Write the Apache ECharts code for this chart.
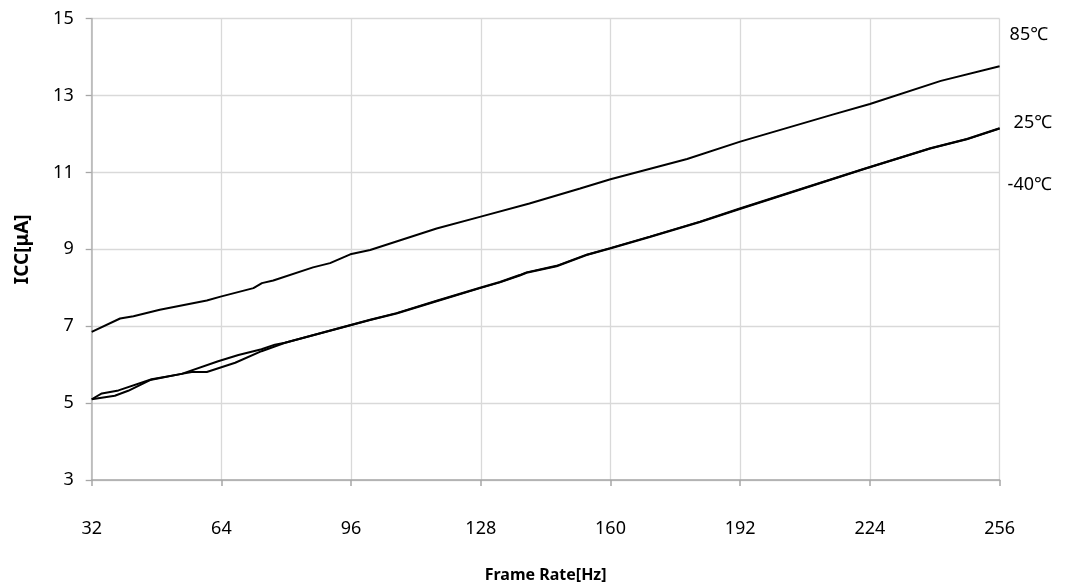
<!DOCTYPE html>
<html>
<head>
<meta charset="utf-8">
<script src="https://cdn.jsdelivr.net/npm/echarts@6/dist/echarts.min.js"></script>
<style>
html,body{margin:0;padding:0;background:#fff;}
#chart{width:1065px;height:588px;}
</style>
</head>
<body>
<div id="chart"></div>
<script>
// Frame rate [Hz] / ICC [uA] readings per temperature
const hz85 = [32, 39, 42.3, 48.8, 60.4, 63.8, 71.9, 74, 76.8, 86.6, 90.8, 95.8, 100.7, 117.1, 128, 140, 152.5, 160, 178.9, 192, 215, 224, 241.5, 256];
const icc85 = [6.85, 7.20, 7.26, 7.43, 7.67, 7.77, 7.99, 8.12, 8.19, 8.53, 8.64, 8.87, 8.98, 9.54, 9.85, 10.19, 10.58, 10.82, 11.35, 11.80, 12.51, 12.78, 13.38, 13.76];

const hz25 = [32, 34.5, 38.6, 46.8, 54.2, 63.2, 68.2, 73.9, 77.2, 79.7, 96.1, 100.7, 107.2, 117.1, 127.8, 132.7, 137.6, 139.3, 146.7, 154.1, 159.9, 169.7, 182.1, 191.9, 222.4, 238.9, 247.9, 256];
const icc25 = [5.10, 5.25, 5.33, 5.62, 5.76, 6.09, 6.25, 6.40, 6.52, 6.57, 7.04, 7.17, 7.34, 7.66, 8.00, 8.15, 8.33, 8.40, 8.57, 8.86, 9.03, 9.33, 9.72, 10.06, 11.09, 11.63, 11.87, 12.15];

const hzM40 = [32, 37.7, 41.0, 46.4, 54.2, 56.7, 60.4, 67.4, 73.9, 79.7, 96.1, 100.7, 107.2, 117.1, 127.8, 132.7, 137.6, 139.3, 146.7, 154.1, 159.9, 169.7, 182.1, 191.9, 222.4, 238.9, 247.9, 256];
const iccM40 = [5.10, 5.19, 5.32, 5.60, 5.76, 5.81, 5.81, 6.05, 6.35, 6.57, 7.03, 7.16, 7.33, 7.65, 7.99, 8.14, 8.32, 8.39, 8.56, 8.85, 9.02, 9.32, 9.71, 10.05, 11.08, 11.62, 11.86, 12.14];

const xTicks = [32, 64, 96, 128, 160, 192, 224, 256];
const yTicks = [3, 5, 7, 9, 11, 13, 15];
const seriesNames = ['85℃', '25℃', '-40℃'];

function pairs(xs, ys){ return xs.map((x,i)=>[x, ys[i]]); }

const FONT = 'Noto Sans';
const chart = echarts.init(document.getElementById('chart'), null, {renderer:'canvas'});

function lineSeries(name, xs, ys, offset){
  return {
    name: name,
    type: 'line',
    data: pairs(xs, ys),
    showSymbol: false,
    symbol: 'none',
    smooth: false,
    lineStyle: {color: '#000', width: 2},
    emphasis: {disabled: true},
    endLabel: {
      show: true,
      formatter: name,
      color: '#000',
      fontFamily: FONT,
      fontSize: 18,
      distance: 0,
      offset: offset
    },
    z: 3
  };
}

chart.setOption({
  animation: false,
  backgroundColor: '#fff',
  grid: {left: 91.7, right: 65.4, top: 18.6, bottom: 105, containLabel: false},
  xAxis: {
    type: 'value',
    min: xTicks[0],
    max: xTicks[xTicks.length-1],
    interval: 32,
    name: 'Frame Rate[Hz]',
    nameLocation: 'middle',
    nameGap: 87,
    nameTextStyle: {fontFamily: FONT, fontSize: 16, fontWeight: 'bold', color: '#000'},
    axisLine: {show: true, lineStyle: {color: '#a6a6a6', width: 1.5}},
    axisTick: {show: true, length: 6, lineStyle: {color: '#a6a6a6', width: 1.5}},
    axisLabel: {margin: 40, fontFamily: FONT, fontSize: 18, color: '#000'},
    splitLine: {show: true, lineStyle: {color: '#d9d9d9', width: 1.3}}
  },
  yAxis: {
    type: 'value',
    min: yTicks[0],
    max: yTicks[yTicks.length-1],
    interval: 2,
    name: 'ICC[μA]',
    nameLocation: 'middle',
    nameGap: 60,
    nameRotate: 90,
    nameTextStyle: {fontFamily: FONT, fontSize: 19, fontWeight: 'bold', color: '#000'},
    axisLine: {show: true, lineStyle: {color: '#b3b3b3', width: 1.5}},
    axisTick: {show: true, length: 6, lineStyle: {color: '#a6a6a6', width: 1.3}},
    axisLabel: {margin: 18, fontFamily: FONT, fontSize: 18, color: '#000'},
    splitLine: {show: true, lineStyle: {color: '#d9d9d9', width: 1.3}}
  },
  series: [
    lineSeries(seriesNames[0], hz85, icc85, [10, -31]),
    lineSeries(seriesNames[1], hz25, icc25, [14, -5]),
    lineSeries(seriesNames[2], hzM40, iccM40, [8, 56])
  ]
});
</script>
</body>
</html>
